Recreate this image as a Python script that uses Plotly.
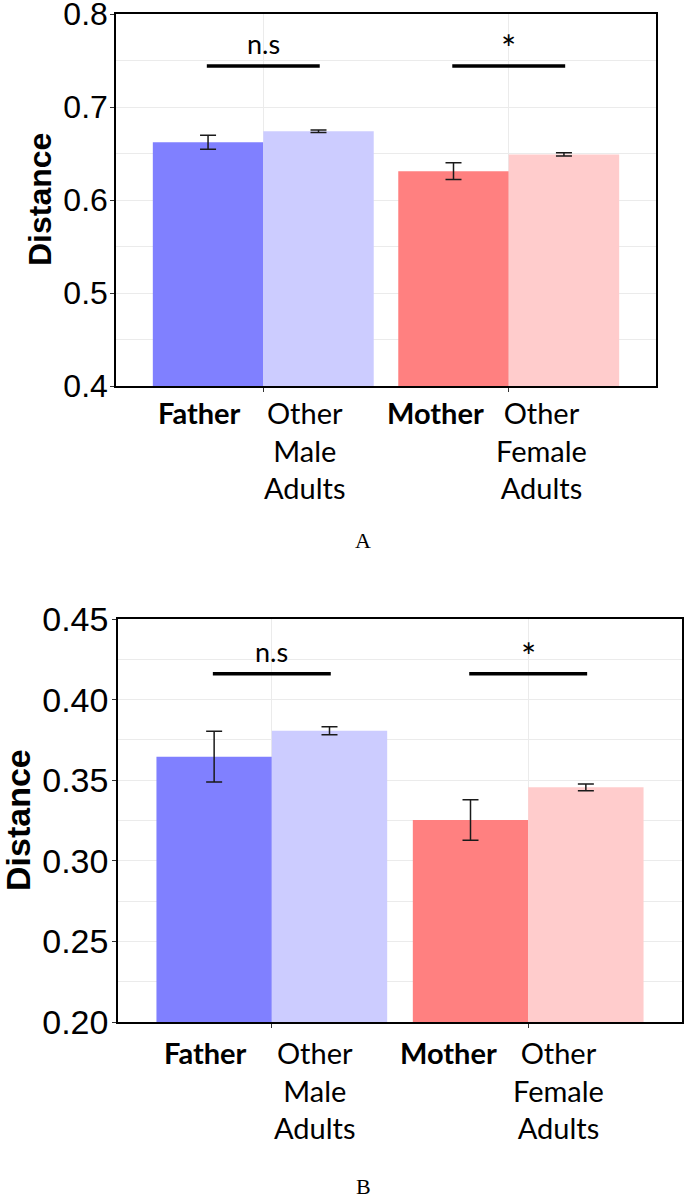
import plotly.graph_objects as go

# categories (one group per parent)
groups = ["Father", "Mother"]
parent_labels = ["<b>Father</b>", "<b>Mother</b>"]
other_labels = ["Other<br>Male<br>Adults", "Other<br>Female<br>Adults"]

# panel A
a_parent = [0.662, 0.631]
a_parent_err = [0.0075, 0.009]
a_other = [0.674, 0.649]
a_other_err = [0.0014, 0.0018]
a_sig_y = [0.744, 0.744]
a_sig_text = ["n.s", "*"]

# panel B
b_parent = [0.3646, 0.3253]
b_parent_err = [0.0157, 0.0125]
b_other = [0.3807, 0.3456]
b_other_err = [0.0025, 0.0021]
b_sig_y = [0.416, 0.416]
b_sig_text = ["n.s", "*"]

parent_colors = ["#8080FF", "#FF8080"]
other_colors = ["#CCCCFF", "#FFCCCC"]

W, H = 685, 1197
def py(px):
    return 1 - px / H

fig = go.Figure()

panels = [
    dict(xa="x", ya="y", parent=a_parent, perr=a_parent_err, other=a_other, oerr=a_other_err,
         sig_y=a_sig_y, sig_text=a_sig_text, ns_off=0.024, label_top=393, letter="A", letter_y=540,
         par_off=[-0.26, -0.30], oth_off=[0.17, 0.135], title_x=40, title_y=200, title_size=32),
    dict(xa="x2", ya="y2", parent=b_parent, perr=b_parent_err, other=b_other, oerr=b_other_err,
         sig_y=b_sig_y, sig_text=b_sig_text, ns_off=0.014, label_top=1033, letter="B", letter_y=1186,
         par_off=[-0.26, -0.31], oth_off=[0.17, 0.12], title_x=18, title_y=820, title_size=34),
]

for p in panels:
    fig.add_trace(go.Bar(
        x=groups, y=p["parent"], marker=dict(color=parent_colors, line=dict(width=0)),
        error_y=dict(type="data", array=p["perr"], color="#1a1a1a", thickness=1.5, width=8),
        xaxis=p["xa"], yaxis=p["ya"], showlegend=False,
    ))
    fig.add_trace(go.Bar(
        x=groups, y=p["other"], marker=dict(color=other_colors, line=dict(width=0)),
        error_y=dict(type="data", array=p["oerr"], color="#1a1a1a", thickness=1.5, width=8),
        xaxis=p["xa"], yaxis=p["ya"], showlegend=False,
    ))
    for i, g in enumerate(groups):
        fig.add_shape(type="line", xref=p["xa"], yref=p["ya"],
                      x0=i - 0.23, x1=i + 0.23, y0=p["sig_y"][i], y1=p["sig_y"][i],
                      line=dict(color="black", width=3.5))
        t = p["sig_text"][i]
        fig.add_annotation(xref=p["xa"], yref=p["ya"], x=i, y=p["sig_y"][i] + p["ns_off"] * (0.8 if t == "*" else 1),
                           text=t, showarrow=False, yanchor="middle",
                           font=dict(family="Lato", size=36 if t == "*" else 27, color="black"))
        fig.add_annotation(xref=p["xa"], yref="paper", x=i + p["par_off"][i], y=py(p["label_top"]),
                           text=parent_labels[i], showarrow=False, yanchor="top",
                           font=dict(family="Lato", size=29, color="black"))
        fig.add_annotation(xref=p["xa"], yref="paper", x=i + p["oth_off"][i], y=py(p["label_top"]),
                           text=other_labels[i], showarrow=False, yanchor="top",
                           font=dict(family="Lato", size=29, color="black"))
    fig.add_annotation(xref="paper", yref="paper", x=363 / W, y=py(p["letter_y"]),
                       text=p["letter"], showarrow=False, yanchor="middle",
                       font=dict(family="Liberation Serif", size=22, color="black"))
    fig.add_annotation(xref="paper", yref="paper", x=p["title_x"] / W, y=py(p["title_y"]),
                       text="<b>Distance</b>", textangle=-90, showarrow=False,
                       xanchor="center", yanchor="middle",
                       font=dict(family="Liberation Sans", size=p["title_size"], color="black"))

axis_common = dict(showline=True, mirror=True, linecolor="black", linewidth=1.5,
                   gridcolor="#EBEBEB", gridwidth=1, zeroline=False, automargin=False,
                   ticks="outside", ticklen=4, tickcolor="#333", tickwidth=1,
                   ticklabeloverflow="allow")

fig.update_layout(
    width=W, height=H,
    margin=dict(l=0, r=0, t=0, b=0),
    paper_bgcolor="white", plot_bgcolor="white",
    barmode="group", bargap=0.1, bargroupgap=0,
    font=dict(family="Liberation Sans", color="black"),
    xaxis=dict(domain=[116 / W, 656 / W], anchor="y", range=[-0.6, 1.6],
               showticklabels=False, **axis_common),
    yaxis=dict(domain=[py(386), py(14)], anchor="x", range=[0.4, 0.8], dtick=0.1,
               tickformat=".1f", tickfont=dict(size=32, family="Liberation Sans"),
               ticklabelstandoff=-4,
               minor=dict(dtick=0.05, showgrid=True, gridcolor="#EBEBEB", ticks=""),
               **axis_common),
    xaxis2=dict(domain=[118 / W, 682 / W], anchor="y2", range=[-0.6, 1.6],
                showticklabels=False, **axis_common),
    yaxis2=dict(domain=[py(1022), py(619)], anchor="x2", range=[0.2, 0.45], dtick=0.05,
                tickformat=".2f", tickfont=dict(size=34, family="Liberation Sans"),
                ticklabelstandoff=-3,
                minor=dict(dtick=0.025, showgrid=True, gridcolor="#EBEBEB", ticks=""),
                **axis_common),
)

fig.write_html("out.html", config={"displayModeBar": False},
               post_script="document.body.style.margin='0';")
